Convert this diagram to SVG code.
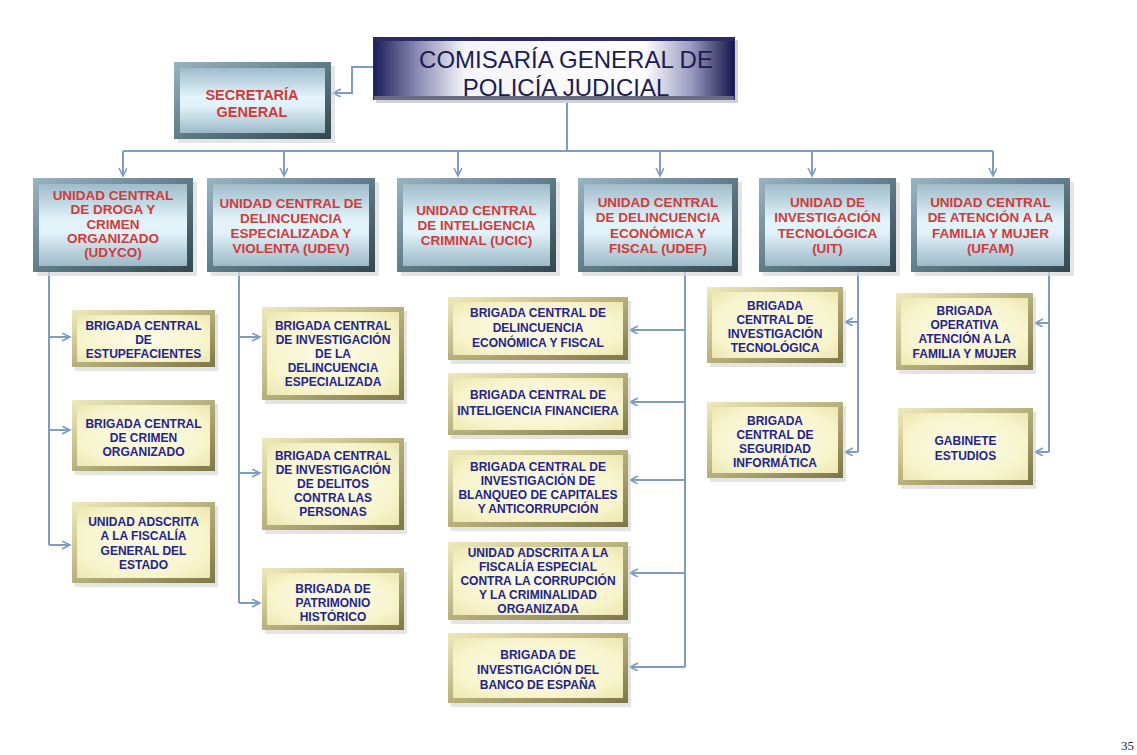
<svg xmlns="http://www.w3.org/2000/svg" width="1137" height="755" viewBox="0 0 1137 755">
<defs>
<linearGradient id="gBlueOut" x1="0" y1="0" x2="1" y2="1">
<stop offset="0" stop-color="#9ab4c0"/><stop offset="0.5" stop-color="#5f7c88"/><stop offset="1" stop-color="#33474f"/>
</linearGradient>
<linearGradient id="gBlueIn" x1="0" y1="0" x2="0" y2="1">
<stop offset="0" stop-color="#9ebccb"/><stop offset="0.45" stop-color="#e4f4fb"/><stop offset="0.6" stop-color="#e0f1f9"/><stop offset="1" stop-color="#9db9c7"/>
</linearGradient>
<linearGradient id="gYelOut" x1="0" y1="0" x2="1" y2="1">
<stop offset="0" stop-color="#eeeabb"/><stop offset="0.5" stop-color="#b8b07a"/><stop offset="1" stop-color="#7e7648"/>
</linearGradient>
<radialGradient id="gYelIn" cx="0.5" cy="0.5" r="0.7">
<stop offset="0" stop-color="#fdfce8"/><stop offset="0.7" stop-color="#f7f4cc"/><stop offset="1" stop-color="#ece7b0"/>
</radialGradient>
<linearGradient id="gTop" x1="0" y1="0" x2="1" y2="0">
<stop offset="0" stop-color="#1e1e5c"/><stop offset="0.12" stop-color="#8a8ab4"/><stop offset="0.25" stop-color="#f4f4fa"/><stop offset="0.75" stop-color="#ffffff"/><stop offset="0.88" stop-color="#9c9cc0"/><stop offset="1" stop-color="#16164e"/>
</linearGradient>
<marker id="arr" markerWidth="10" markerHeight="10" refX="8" refY="4" orient="auto" markerUnits="userSpaceOnUse">
<path d="M0,0 L8,4 L0,8" fill="none" stroke="#7f9cc2" stroke-width="1.6"/>
</marker>
</defs>
<style>
.sh{fill:#d9d9d9;opacity:0.7}
.bo{fill:url(#gBlueOut)}
.bi{fill:url(#gBlueIn)}
.yo{fill:url(#gYelOut)}
.yi{fill:url(#gYelIn)}
.red{font-family:"Liberation Sans",Arial,sans-serif;font-weight:bold;font-size:13.5px;fill:#cf3b3b;text-anchor:middle}
.nav{font-family:"Liberation Sans",Arial,sans-serif;font-weight:bold;font-size:12px;fill:#24248c;text-anchor:middle}
.ttl{font-family:"Liberation Sans",Arial,sans-serif;font-size:24px;fill:#1c1c52;text-anchor:middle}
.cn{fill:none;stroke:#7f9cc2;stroke-width:2}
.ca{fill:none;stroke:#7f9cc2;stroke-width:2;marker-end:url(#arr)}
</style>
<rect width="1137" height="755" fill="#ffffff"/>

<g id="connectors">
<path class="ca" d="M373,67 H352 V93 H333"/>
<path class="cn" d="M567,100 V151"/>
<path class="cn" d="M123,151 H993"/>
<path class="ca" d="M123,151 V176"/>
<path class="ca" d="M284,151 V176"/>
<path class="ca" d="M458,151 V176"/>
<path class="ca" d="M660,151 V176"/>
<path class="ca" d="M812,151 V176"/>
<path class="ca" d="M993,151 V176"/>
<path class="cn" d="M49,272 V545"/>
<path class="ca" d="M49,337 H70"/>
<path class="ca" d="M49,430 H70"/>
<path class="ca" d="M49,545 H70"/>
<path class="cn" d="M239,272 V603"/>
<path class="ca" d="M239,337 H260"/>
<path class="ca" d="M239,473 H260"/>
<path class="ca" d="M239,603 H260"/>
<path class="cn" d="M685,272 V667"/>
<path class="ca" d="M685,330 H630"/>
<path class="ca" d="M685,402 H630"/>
<path class="ca" d="M685,480 H630"/>
<path class="ca" d="M685,573 H630"/>
<path class="ca" d="M685,667 H630"/>
<path class="cn" d="M858,272 V452"/>
<path class="ca" d="M858,322 H845"/>
<path class="ca" d="M858,452 H845"/>
<path class="cn" d="M1049,272 V452"/>
<path class="ca" d="M1049,323 H1035"/>
<path class="ca" d="M1049,452 H1035"/>
</g>

<g id="comisaria">
<rect x="376" y="40" width="362" height="63" fill="#cfcfd8"/>
<rect x="373" y="37" width="362" height="63" fill="#2a2a66"/>
<rect x="374" y="41" width="360" height="57" fill="url(#gTop)"/>
<rect x="374" y="96" width="360" height="4" fill="#6a6a80"/>
<text class="ttl" x="566" y="68">COMISARÍA GENERAL DE</text>
<text class="ttl" x="566" y="96">POLICÍA JUDICIAL</text>
</g>

<g id="secretaria">
<rect class="sh" x="178" y="66" width="157" height="77"/>
<rect class="bo" x="174" y="62" width="157" height="77"/>
<rect class="bi" x="180" y="68" width="145" height="65"/>
<text class="red" x="252" y="100" style="font-size:14.5px">SECRETARÍA</text>
<text class="red" x="252" y="117" style="font-size:14.5px">GENERAL</text>
</g>

<g id="udyco">
<rect class="sh" x="37" y="182" width="160" height="94"/>
<rect class="bo" x="33" y="178" width="160" height="94"/>
<rect class="bi" x="39" y="184" width="148" height="82"/>
<text class="red"><tspan x="113" y="200">UNIDAD CENTRAL</tspan><tspan x="113" y="214">DE DROGA Y</tspan><tspan x="113" y="228.5">CRIMEN</tspan><tspan x="113" y="243">ORGANIZADO</tspan><tspan x="113" y="257">(UDYCO)</tspan></text>
</g>

<g id="udev">
<rect class="sh" x="211" y="182" width="168" height="94"/>
<rect class="bo" x="207" y="178" width="168" height="94"/>
<rect class="bi" x="213" y="184" width="156" height="82"/>
<text class="red"><tspan x="291" y="208">UNIDAD CENTRAL DE</tspan><tspan x="291" y="223">DELINCUENCIA</tspan><tspan x="291" y="238">ESPECIALIZADA Y</tspan><tspan x="291" y="253">VIOLENTA (UDEV)</tspan></text>
</g>

<g id="ucic">
<rect class="sh" x="401" y="182" width="159" height="94"/>
<rect class="bo" x="397" y="178" width="159" height="94"/>
<rect class="bi" x="403" y="184" width="147" height="82"/>
<text class="red"><tspan x="476.5" y="215">UNIDAD CENTRAL</tspan><tspan x="476.5" y="230">DE INTELIGENCIA</tspan><tspan x="476.5" y="245">CRIMINAL (UCIC)</tspan></text>
</g>

<g id="udef">
<rect class="sh" x="582" y="182" width="160" height="94"/>
<rect class="bo" x="578" y="178" width="160" height="94"/>
<rect class="bi" x="584" y="184" width="148" height="82"/>
<text class="red"><tspan x="658" y="207">UNIDAD CENTRAL</tspan><tspan x="658" y="222">DE DELINCUENCIA</tspan><tspan x="658" y="238">ECONÓMICA Y</tspan><tspan x="658" y="253">FISCAL (UDEF)</tspan></text>
</g>

<g id="uit">
<rect class="sh" x="763" y="182" width="137" height="94"/>
<rect class="bo" x="759" y="178" width="137" height="94"/>
<rect class="bi" x="765" y="184" width="125" height="82"/>
<text class="red"><tspan x="827.5" y="207">UNIDAD DE</tspan><tspan x="827.5" y="222">INVESTIGACIÓN</tspan><tspan x="827.5" y="238">TECNOLÓGICA</tspan><tspan x="827.5" y="253">(UIT)</tspan></text>
</g>

<g id="ufam">
<rect class="sh" x="915" y="182" width="159" height="94"/>
<rect class="bo" x="911" y="178" width="159" height="94"/>
<rect class="bi" x="917" y="184" width="147" height="82"/>
<text class="red"><tspan x="990.5" y="207">UNIDAD CENTRAL</tspan><tspan x="990.5" y="222">DE ATENCIÓN A LA</tspan><tspan x="990.5" y="238">FAMILIA Y MUJER</tspan><tspan x="990.5" y="253">(UFAM)</tspan></text>
</g>

<g id="b-estupefacientes">
<rect class="sh" x="75" y="314" width="143" height="57"/>
<rect class="yo" x="72" y="310" width="143" height="57"/>
<rect class="yi" x="77" y="315" width="133" height="47"/>
<text class="nav"><tspan x="143.5" y="329.5">BRIGADA CENTRAL</tspan><tspan x="143.5" y="343.5">DE</tspan><tspan x="143.5" y="357.5">ESTUPEFACIENTES</tspan></text>
</g>

<g id="b-crimen">
<rect class="sh" x="75" y="404" width="143" height="71"/>
<rect class="yo" x="72" y="400" width="143" height="71"/>
<rect class="yi" x="77" y="405" width="133" height="61"/>
<text class="nav"><tspan x="143.5" y="427.5">BRIGADA CENTRAL</tspan><tspan x="143.5" y="441.5">DE CRIMEN</tspan><tspan x="143.5" y="455.5">ORGANIZADO</tspan></text>
</g>

<g id="u-fiscalia-general">
<rect class="sh" x="75" y="506" width="143" height="81"/>
<rect class="yo" x="72" y="502" width="143" height="81"/>
<rect class="yi" x="77" y="507" width="133" height="71"/>
<text class="nav"><tspan x="143.5" y="526">UNIDAD ADSCRITA</tspan><tspan x="143.5" y="540">A LA FISCALÍA</tspan><tspan x="143.5" y="554.5">GENERAL DEL</tspan><tspan x="143.5" y="569">ESTADO</tspan></text>
</g>

<g id="b-especializada">
<rect class="sh" x="265" y="311" width="142" height="93"/>
<rect class="yo" x="262" y="307" width="142" height="93"/>
<rect class="yi" x="267" y="312" width="132" height="83"/>
<text class="nav"><tspan x="333" y="329.5">BRIGADA CENTRAL</tspan><tspan x="333" y="343.5">DE INVESTIGACIÓN</tspan><tspan x="333" y="357.5">DE LA</tspan><tspan x="333" y="371.5">DELINCUENCIA</tspan><tspan x="333" y="385.5">ESPECIALIZADA</tspan></text>
</g>

<g id="b-personas">
<rect class="sh" x="265" y="442" width="142" height="92"/>
<rect class="yo" x="262" y="438" width="142" height="92"/>
<rect class="yi" x="267" y="443" width="132" height="82"/>
<text class="nav"><tspan x="333" y="460">BRIGADA CENTRAL</tspan><tspan x="333" y="474">DE INVESTIGACIÓN</tspan><tspan x="333" y="488">DE DELITOS</tspan><tspan x="333" y="502">CONTRA LAS</tspan><tspan x="333" y="516">PERSONAS</tspan></text>
</g>

<g id="b-patrimonio">
<rect class="sh" x="265" y="572" width="142" height="62"/>
<rect class="yo" x="262" y="568" width="142" height="62"/>
<rect class="yi" x="267" y="573" width="132" height="52"/>
<text class="nav"><tspan x="333" y="593">BRIGADA DE</tspan><tspan x="333" y="607">PATRIMONIO</tspan><tspan x="333" y="621">HISTÓRICO</tspan></text>
</g>

<g id="b-economica">
<rect class="sh" x="451" y="301" width="180" height="63"/>
<rect class="yo" x="448" y="297" width="180" height="63"/>
<rect class="yi" x="453" y="302" width="170" height="53"/>
<text class="nav"><tspan x="538" y="317">BRIGADA CENTRAL DE</tspan><tspan x="538" y="332">DELINCUENCIA</tspan><tspan x="538" y="347">ECONÓMICA Y FISCAL</tspan></text>
</g>

<g id="b-financiera">
<rect class="sh" x="451" y="377" width="180" height="62"/>
<rect class="yo" x="448" y="373" width="180" height="62"/>
<rect class="yi" x="453" y="378" width="170" height="52"/>
<text class="nav"><tspan x="538" y="399">BRIGADA CENTRAL DE</tspan><tspan x="538" y="415">INTELIGENCIA FINANCIERA</tspan></text>
</g>

<g id="b-blanqueo">
<rect class="sh" x="451" y="454" width="180" height="77"/>
<rect class="yo" x="448" y="450" width="180" height="77"/>
<rect class="yi" x="453" y="455" width="170" height="67"/>
<text class="nav"><tspan x="538" y="471">BRIGADA CENTRAL DE</tspan><tspan x="538" y="485">INVESTIGACIÓN DE</tspan><tspan x="538" y="499">BLANQUEO DE CAPITALES</tspan><tspan x="538" y="513">Y ANTICORRUPCIÓN</tspan></text>
</g>

<g id="u-anticorrupcion">
<rect class="sh" x="451" y="546" width="180" height="78"/>
<rect class="yo" x="448" y="542" width="180" height="78"/>
<rect class="yi" x="453" y="547" width="170" height="68"/>
<text class="nav"><tspan x="538" y="557">UNIDAD ADSCRITA A LA</tspan><tspan x="538" y="571">FISCALÍA ESPECIAL</tspan><tspan x="538" y="585">CONTRA LA CORRUPCIÓN</tspan><tspan x="538" y="599">Y LA CRIMINALIDAD</tspan><tspan x="538" y="613">ORGANIZADA</tspan></text>
</g>

<g id="b-banco">
<rect class="sh" x="451" y="637" width="180" height="70"/>
<rect class="yo" x="448" y="633" width="180" height="70"/>
<rect class="yi" x="453" y="638" width="170" height="60"/>
<text class="nav"><tspan x="538" y="659">BRIGADA DE</tspan><tspan x="538" y="674">INVESTIGACIÓN DEL</tspan><tspan x="538" y="689">BANCO DE ESPAÑA</tspan></text>
</g>

<g id="b-tecnologica">
<rect class="sh" x="710" y="291" width="136" height="76"/>
<rect class="yo" x="707" y="287" width="136" height="76"/>
<rect class="yi" x="712" y="292" width="126" height="66"/>
<text class="nav"><tspan x="775" y="310">BRIGADA</tspan><tspan x="775" y="324">CENTRAL DE</tspan><tspan x="775" y="338">INVESTIGACIÓN</tspan><tspan x="775" y="352">TECNOLÓGICA</tspan></text>
</g>

<g id="b-seguridad">
<rect class="sh" x="710" y="406" width="136" height="76"/>
<rect class="yo" x="707" y="402" width="136" height="76"/>
<rect class="yi" x="712" y="407" width="126" height="66"/>
<text class="nav"><tspan x="775" y="425">BRIGADA</tspan><tspan x="775" y="439">CENTRAL DE</tspan><tspan x="775" y="453">SEGURIDAD</tspan><tspan x="775" y="467">INFORMÁTICA</tspan></text>
</g>

<g id="b-familia">
<rect class="sh" x="899" y="297" width="137" height="77"/>
<rect class="yo" x="896" y="293" width="137" height="77"/>
<rect class="yi" x="901" y="298" width="127" height="67"/>
<text class="nav"><tspan x="964.5" y="315">BRIGADA</tspan><tspan x="964.5" y="329">OPERATIVA</tspan><tspan x="964.5" y="343">ATENCIÓN A LA</tspan><tspan x="964.5" y="358">FAMILIA Y MUJER</tspan></text>
</g>

<g id="gabinete">
<rect class="sh" x="901" y="412" width="135" height="77"/>
<rect class="yo" x="898" y="408" width="135" height="77"/>
<rect class="yi" x="903" y="413" width="125" height="67"/>
<text class="nav"><tspan x="965.5" y="445">GABINETE</tspan><tspan x="965.5" y="460">ESTUDIOS</tspan></text>
</g>

<text x="1121" y="750" style="font-family:'Liberation Serif','Times New Roman',serif;font-size:13px;fill:#222">35</text>
</svg>
